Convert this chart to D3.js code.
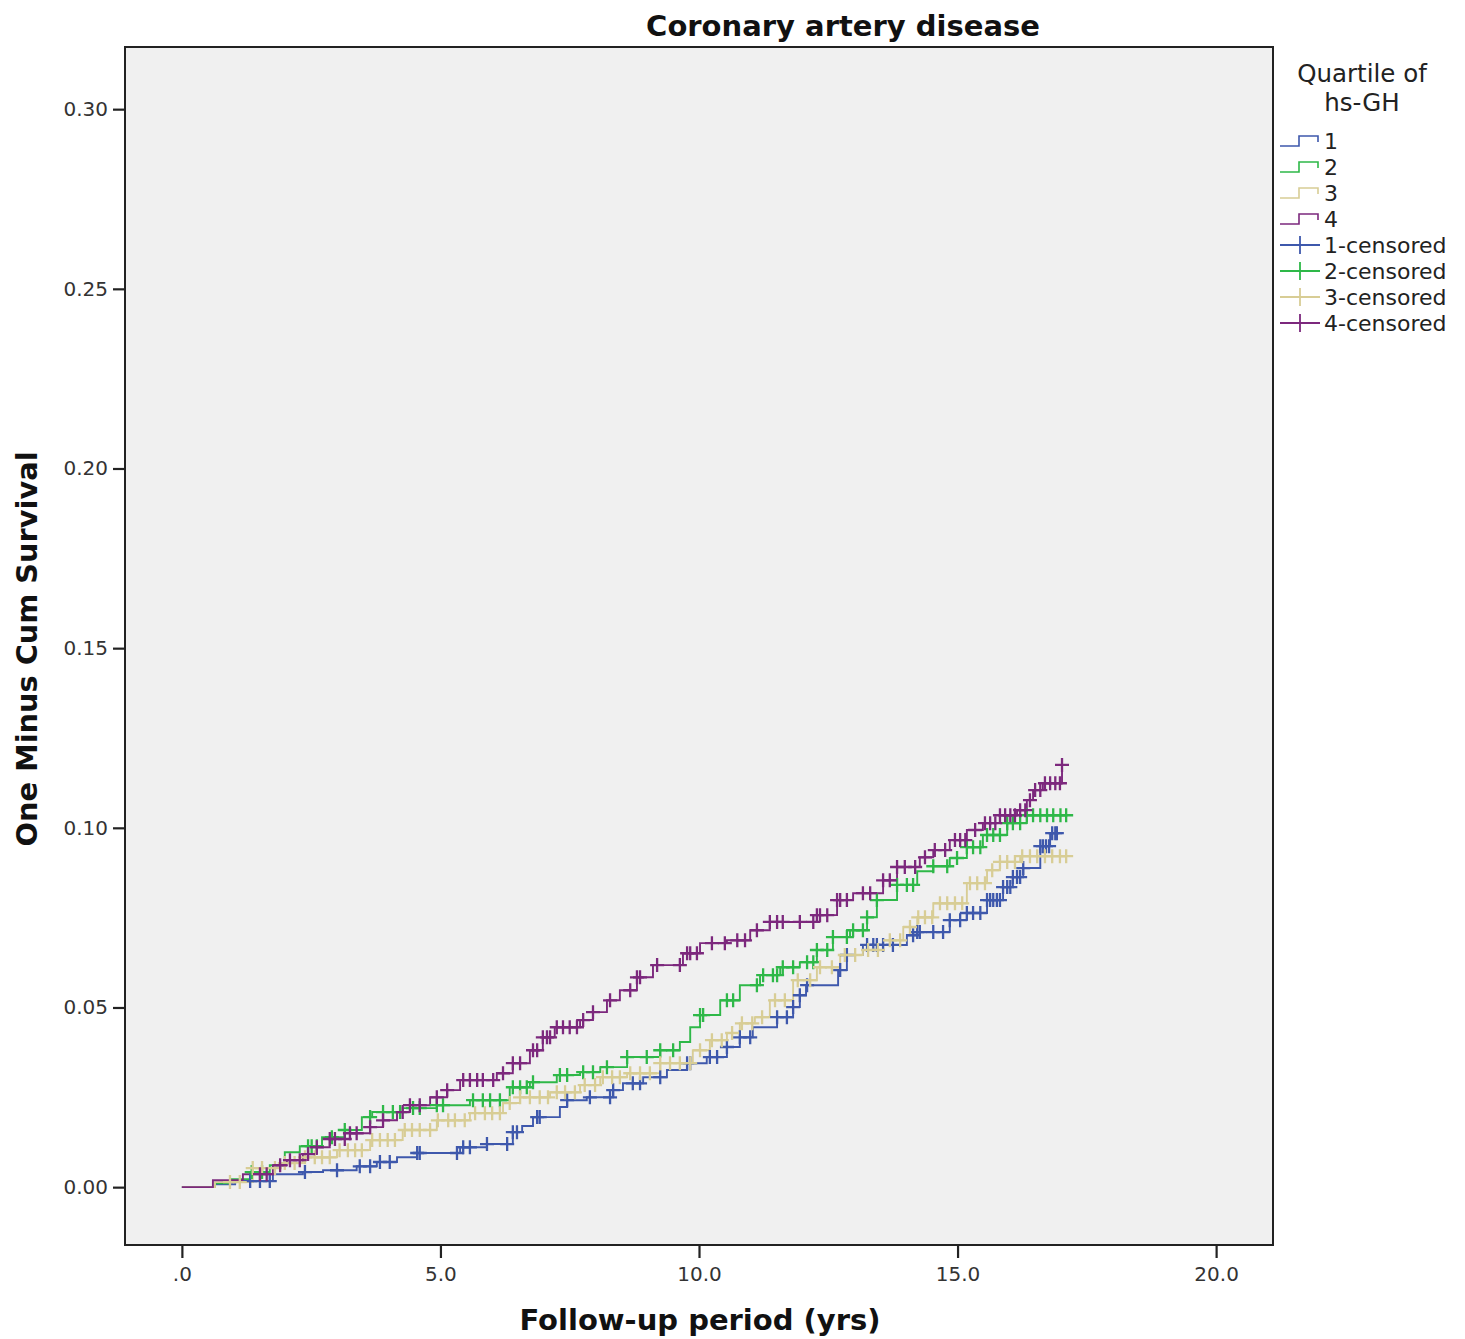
<!DOCTYPE html>
<html>
<head>
<meta charset="utf-8">
<script src="https://cdn.jsdelivr.net/npm/d3@7/dist/d3.min.js"></script>
<style>
  html, body { margin: 0; padding: 0; background: #ffffff; }
  svg { display: block; }
  text { font-family: "DejaVu Sans", sans-serif; }
</style>
</head>
<body>
<svg id="chart" width="1465" height="1339"></svg>
<script>
// Kaplan-Meier "one minus cumulative survival" curves for coronary artery disease,
// one curve per quartile of hs-GH. Each curve: event times (years) and the
// cumulative incidence reached at that time, plus the censored follow-up times.

const groups = ["1", "2", "3", "4"];
const groupColors = ["#3e58ac", "#2eb848", "#d8cd95", "#7c287d"];

const q1Time = [0, 0.64, 1.03, 1.76, 2.34, 2.73, 3.38, 3.77, 4.16, 4.55, 5.38, 5.90, 6.40, 6.58, 6.79, 7.31, 7.45, 7.83, 8.34, 8.53, 8.92, 9.38, 9.77, 10.15, 10.54, 10.79, 11.04, 11.51, 11.82, 11.95, 12.07, 12.69, 12.86, 13.17, 14.02, 14.22, 14.85, 15.18, 15.57, 15.88, 16.07, 16.27, 16.60, 16.79];
const q1Risk = [0, 0.0008, 0.0017, 0.0036, 0.0042, 0.0047, 0.0058, 0.0070, 0.0083, 0.0095, 0.0111, 0.0120, 0.0153, 0.0170, 0.0195, 0.0223, 0.0242, 0.0250, 0.0270, 0.0289, 0.0306, 0.0326, 0.0345, 0.0362, 0.0390, 0.0417, 0.0445, 0.0473, 0.0501, 0.0534, 0.0562, 0.0604, 0.0646, 0.0674, 0.0701, 0.0710, 0.0743, 0.0763, 0.0799, 0.0835, 0.0863, 0.0888, 0.0949, 0.0985];
const q1End = 16.95;
const q1Censored = [1.32, 1.51, 1.70, 2.38, 3.00, 3.44, 3.64, 3.83, 4.02, 4.55, 4.60, 5.32, 5.44, 5.57, 5.90, 6.29, 6.40, 6.48, 6.87, 6.92, 7.45, 7.89, 8.28, 8.34, 8.72, 8.86, 9.25, 9.77, 9.83, 10.21, 10.35, 10.54, 10.79, 10.99, 11.51, 11.70, 11.82, 11.95, 12.09, 12.73, 12.86, 13.25, 13.37, 13.44, 13.56, 13.75, 14.14, 14.22, 14.27, 14.53, 14.72, 14.85, 15.05, 15.18, 15.30, 15.44, 15.57, 15.63, 15.69, 15.76, 15.82, 15.88, 15.96, 16.02, 16.07, 16.15, 16.21, 16.27, 16.60, 16.65, 16.71, 16.77, 16.83, 16.89, 16.92];

const q2Time = [0, 0.64, 0.93, 1.32, 1.70, 1.99, 2.28, 2.71, 3.15, 3.48, 3.68, 4.27, 4.93, 5.57, 6.34, 6.73, 7.25, 7.70, 8.09, 8.61, 9.25, 9.63, 9.83, 10.02, 10.41, 10.79, 11.18, 11.57, 11.95, 12.28, 12.59, 12.92, 13.25, 13.44, 13.83, 14.22, 14.53, 14.85, 15.18, 15.49, 15.96, 16.34];
const q2Risk = [0, 0.0011, 0.0022, 0.0042, 0.0061, 0.0097, 0.0114, 0.0139, 0.0159, 0.0195, 0.0209, 0.0220, 0.0228, 0.0242, 0.0278, 0.0292, 0.0312, 0.0320, 0.0334, 0.0362, 0.0381, 0.0404, 0.0445, 0.0479, 0.0520, 0.0562, 0.0590, 0.0612, 0.0626, 0.0660, 0.0696, 0.0715, 0.0751, 0.0799, 0.0841, 0.0879, 0.0893, 0.0916, 0.0946, 0.0980, 0.1013, 0.1035];
const q2End = 17.10;
const q2Censored = [1.35, 1.55, 2.44, 2.51, 2.61, 2.90, 3.15, 3.64, 3.89, 4.08, 4.22, 4.47, 4.60, 4.93, 5.05, 5.63, 5.82, 5.96, 6.15, 6.40, 6.54, 6.67, 6.79, 7.31, 7.45, 7.76, 7.95, 8.22, 8.61, 8.99, 9.25, 9.50, 10.02, 10.08, 10.54, 10.66, 11.12, 11.24, 11.43, 11.51, 11.62, 11.82, 12.09, 12.21, 12.28, 12.48, 12.59, 12.86, 12.98, 13.17, 13.25, 13.44, 13.83, 14.02, 14.14, 14.53, 14.80, 14.99, 15.18, 15.30, 15.44, 15.57, 15.69, 15.82, 15.96, 16.07, 16.21, 16.34, 16.46, 16.60, 16.73, 16.85, 16.99, 17.10];

const q3Time = [0, 0.64, 1.37, 1.90, 2.34, 3.00, 3.64, 4.27, 4.93, 5.57, 6.21, 6.54, 7.12, 7.70, 8.09, 8.61, 9.25, 9.88, 10.21, 10.54, 10.79, 11.08, 11.37, 11.82, 12.28, 12.73, 13.17, 13.56, 13.95, 14.22, 14.53, 15.18, 15.57, 15.82, 16.21];
const q3Risk = [0, 0.0014, 0.0053, 0.0067, 0.0083, 0.0103, 0.0131, 0.0159, 0.0186, 0.0206, 0.0234, 0.0250, 0.0264, 0.0284, 0.0306, 0.0317, 0.0345, 0.0381, 0.0409, 0.0429, 0.0456, 0.0473, 0.0520, 0.0576, 0.0612, 0.0646, 0.0660, 0.0687, 0.0724, 0.0751, 0.0790, 0.0846, 0.0882, 0.0905, 0.0921];
const q3End = 17.10;
const q3Censored = [0.93, 1.12, 1.37, 1.55, 1.80, 1.99, 2.18, 2.38, 2.57, 2.71, 2.86, 3.05, 3.21, 3.35, 3.48, 3.68, 3.83, 3.98, 4.12, 4.31, 4.45, 4.60, 4.80, 4.95, 5.15, 5.28, 5.47, 5.67, 5.86, 6.00, 6.15, 6.34, 6.54, 6.73, 6.92, 7.08, 7.25, 7.41, 7.60, 7.79, 7.99, 8.14, 8.32, 8.47, 8.67, 8.86, 9.05, 9.25, 9.44, 9.63, 9.83, 10.02, 10.25, 10.44, 10.64, 10.83, 11.03, 11.22, 11.47, 11.66, 11.91, 12.15, 12.34, 12.57, 12.82, 13.02, 13.27, 13.46, 13.69, 13.89, 14.08, 14.24, 14.37, 14.51, 14.66, 14.80, 14.95, 15.09, 15.24, 15.38, 15.53, 15.67, 15.82, 15.96, 16.11, 16.25, 16.40, 16.54, 16.69, 16.83, 16.98, 17.10];

const q4Time = [0, 0.60, 1.18, 1.76, 2.03, 2.34, 2.61, 2.86, 3.25, 3.64, 3.89, 4.16, 4.41, 4.80, 5.13, 5.38, 6.09, 6.40, 6.73, 6.98, 7.21, 7.70, 7.95, 8.22, 8.47, 8.80, 9.11, 9.69, 10.02, 10.54, 10.99, 11.37, 12.28, 12.67, 12.98, 13.56, 13.83, 14.27, 14.53, 14.85, 15.18, 15.49, 15.82, 16.15, 16.34, 16.46, 16.65, 17.02];
const q4Risk = [0, 0.0019, 0.0036, 0.0061, 0.0075, 0.0092, 0.0111, 0.0134, 0.0150, 0.0167, 0.0186, 0.0209, 0.0228, 0.0250, 0.0270, 0.0298, 0.0317, 0.0345, 0.0381, 0.0417, 0.0445, 0.0465, 0.0487, 0.0520, 0.0548, 0.0584, 0.0618, 0.0651, 0.0679, 0.0687, 0.0715, 0.0738, 0.0757, 0.0799, 0.0818, 0.0854, 0.0891, 0.0918, 0.0938, 0.0966, 0.0994, 0.1013, 0.1035, 0.1049, 0.1077, 0.1105, 0.1124, 0.1175];
const q4End = 17.02;
const q4Censored = [1.51, 1.64, 1.90, 2.09, 2.28, 2.44, 2.61, 2.86, 2.96, 3.15, 3.25, 3.38, 3.64, 3.89, 4.27, 4.41, 4.60, 4.93, 5.13, 5.44, 5.57, 5.71, 5.82, 6.02, 6.21, 6.40, 6.54, 6.79, 6.87, 6.98, 7.06, 7.12, 7.25, 7.37, 7.50, 7.64, 7.76, 7.95, 8.28, 8.67, 8.80, 8.86, 9.19, 9.63, 9.77, 9.83, 9.96, 10.25, 10.50, 10.74, 10.89, 11.12, 11.37, 11.51, 11.62, 11.95, 12.21, 12.28, 12.34, 12.48, 12.67, 12.73, 12.86, 13.17, 13.31, 13.56, 13.69, 13.83, 13.98, 14.18, 14.37, 14.56, 14.76, 14.95, 15.05, 15.15, 15.34, 15.53, 15.63, 15.73, 15.82, 15.92, 16.02, 16.11, 16.21, 16.31, 16.40, 16.50, 16.60, 16.69, 16.79, 16.89, 16.98, 17.02];

const xTicks = [0, 5, 10, 15, 20];
const xTickLabels = [".0", "5.0", "10.0", "15.0", "20.0"];
const yTicks = [0, 0.05, 0.10, 0.15, 0.20, 0.25, 0.30];
const yTickLabels = ["0.00", "0.05", "0.10", "0.15", "0.20", "0.25", "0.30"];

const chartTitle = "Coronary artery disease";
const xTitle = "Follow-up period (yrs)";
const yTitle = "One Minus Cum Survival";
const legendTitle = ["Quartile of", "hs-GH"];

const series = [
  { time: q1Time, risk: q1Risk, end: q1End, censored: q1Censored },
  { time: q2Time, risk: q2Risk, end: q2End, censored: q2Censored },
  { time: q3Time, risk: q3Risk, end: q3End, censored: q3Censored },
  { time: q4Time, risk: q4Risk, end: q4End, censored: q4Censored }
];

// ---- layout ----
const plot = { left: 125, top: 47, right: 1273, bottom: 1245 };
const svg = d3.select("#chart");

const x = d3.scaleLinear().domain([-1.1, 21.1]).range([plot.left, plot.right]);
const y = d3.scaleLinear().domain([-0.0161, 0.3173]).range([plot.bottom, plot.top]);

// plot background
svg.append("rect")
  .attr("x", plot.left).attr("y", plot.top)
  .attr("width", plot.right - plot.left).attr("height", plot.bottom - plot.top)
  .attr("fill", "#f0f0f0");

// title
svg.append("text")
  .attr("x", 843).attr("y", 36)
  .attr("text-anchor", "middle")
  .attr("font-size", 29).attr("font-weight", "bold").attr("fill", "#111")
  .text(chartTitle);

// axes
const xAxis = d3.axisBottom(x).tickValues(xTicks)
  .tickFormat((d, i) => xTickLabels[i]).tickSize(13).tickPadding(6);
const yAxis = d3.axisLeft(y).tickValues(yTicks)
  .tickFormat((d, i) => yTickLabels[i]).tickSize(12).tickPadding(5);

const gx = svg.append("g").attr("transform", `translate(0,${plot.bottom})`).call(xAxis);
const gy = svg.append("g").attr("transform", `translate(${plot.left},0)`).call(yAxis);
[gx, gy].forEach(g => {
  g.select(".domain").remove();
  g.selectAll(".tick line").attr("stroke", "#222").attr("stroke-width", 2.2);
  g.selectAll(".tick text")
    .attr("font-family", "DejaVu Sans, sans-serif")
    .attr("font-size", 20).attr("fill", "#333");
});
gx.selectAll(".tick text").attr("dy", "0.85em");

// frame
svg.append("rect")
  .attr("x", plot.left).attr("y", plot.top)
  .attr("width", plot.right - plot.left).attr("height", plot.bottom - plot.top)
  .attr("fill", "none").attr("stroke", "#222").attr("stroke-width", 2);

// axis titles
svg.append("text")
  .attr("x", 700).attr("y", 1330)
  .attr("text-anchor", "middle")
  .attr("font-size", 29).attr("font-weight", "bold").attr("fill", "#111")
  .text(xTitle);
svg.append("text")
  .attr("transform", "translate(37,649) rotate(-90)")
  .attr("text-anchor", "middle")
  .attr("font-size", 28.8).attr("font-weight", "bold").attr("fill", "#111")
  .text(yTitle);

// ---- survival curves ----
const stepLine = d3.line()
  .x(d => x(d[0])).y(d => y(d[1]))
  .curve(d3.curveStepAfter);

function riskAt(s, t) {
  const i = d3.bisectRight(s.time, t) - 1;
  return s.risk[Math.max(0, i)];
}

const curves = svg.append("g");
series.forEach((s, gi) => {
  const pts = s.time.map((t, i) => [t, s.risk[i]]);
  pts.push([s.end, s.risk[s.risk.length - 1]]);
  curves.append("path")
    .datum(pts)
    .attr("d", stepLine)
    .attr("fill", "none")
    .attr("stroke", groupColors[gi])
    .attr("stroke-width", 1.9);
});

// censoring marks
const half = 7;
series.forEach((s, gi) => {
  const g = curves.append("g")
    .attr("stroke", groupColors[gi])
    .attr("stroke-width", 2.3)
    .attr("fill", "none");
  g.selectAll("path")
    .data(s.censored)
    .join("path")
    .attr("d", t => {
      const cx = x(t), cy = y(riskAt(s, t));
      return `M${cx - half},${cy}H${cx + half}M${cx},${cy - half}V${cy + half}`;
    });
});

// ---- legend ----
const legend = svg.append("g");
legend.selectAll("text.title")
  .data(legendTitle)
  .join("text")
  .attr("class", "title")
  .attr("x", 1362).attr("y", (d, i) => 82 + i * 29)
  .attr("text-anchor", "middle")
  .attr("font-size", 24.5).attr("fill", "#222")
  .text(d => d);

const rowY = i => 141 + i * 26;
groups.forEach((g, i) => {
  const yy = rowY(i);
  legend.append("path")
    .attr("d", `M1280,${yy + 5}H1299V${yy - 5}H1318V${yy + 1}`)
    .attr("fill", "none").attr("stroke", groupColors[i]).attr("stroke-width", 1.6);
  legend.append("text")
    .attr("x", 1324).attr("y", yy + 8)
    .attr("font-size", 22).attr("fill", "#222")
    .text(g);
});
groups.forEach((g, i) => {
  const yy = rowY(i + 4);
  legend.append("path")
    .attr("d", `M1280,${yy}H1320M1300,${yy - 9}V${yy + 9}`)
    .attr("fill", "none").attr("stroke", groupColors[i]).attr("stroke-width", 1.8);
  legend.append("text")
    .attr("x", 1324).attr("y", yy + 8)
    .attr("font-size", 22).attr("fill", "#222")
    .text(g + "-censored");
});
</script>
</body>
</html>
